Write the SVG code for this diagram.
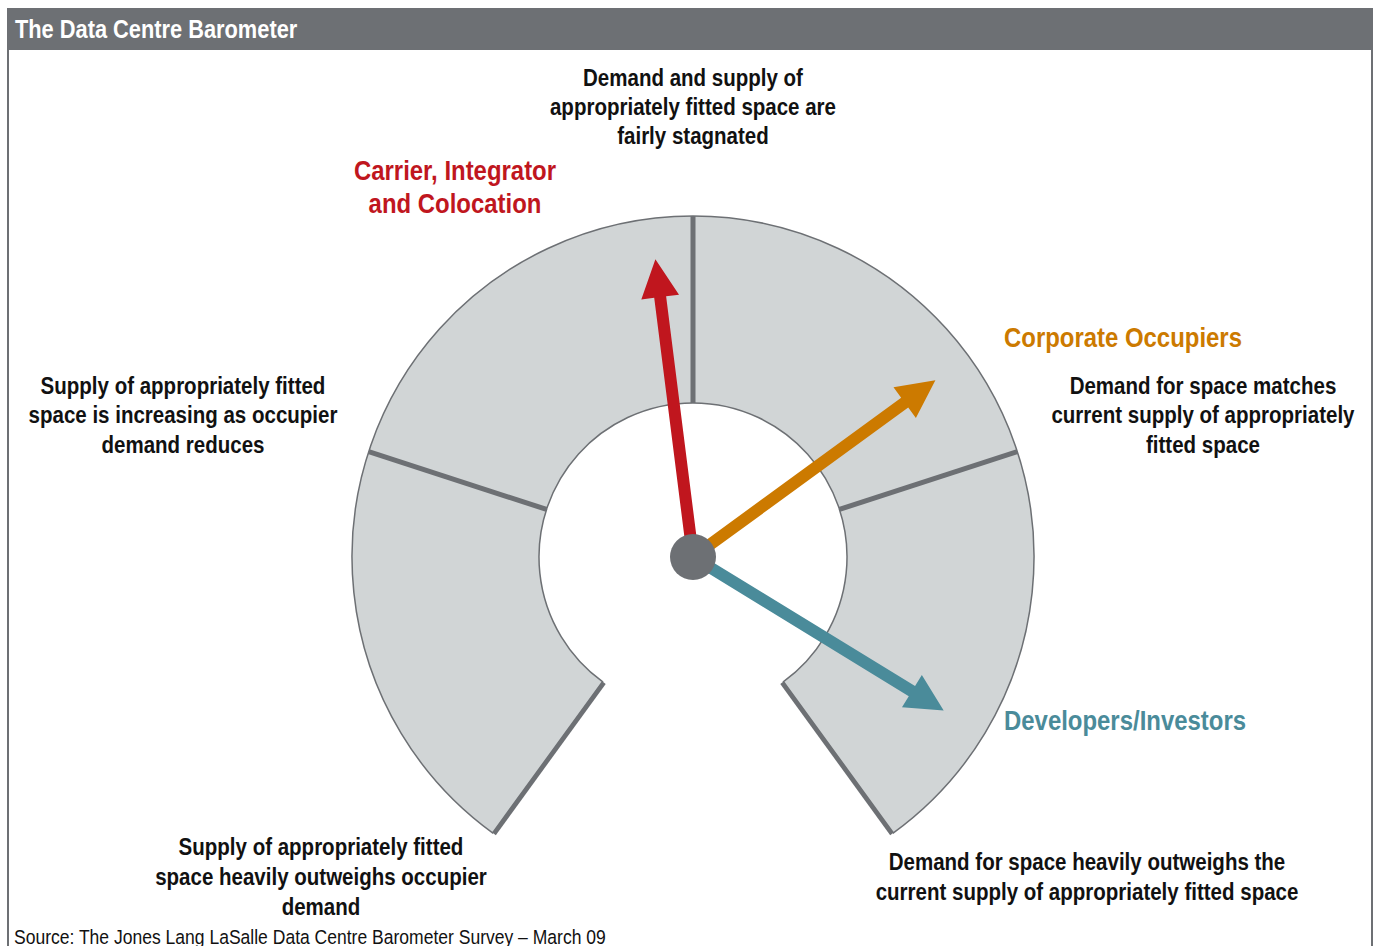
<svg xmlns="http://www.w3.org/2000/svg" width="1378" height="946" viewBox="0 0 1378 946">
  <style>
    /* narrow face emulated by squeezing Liberation Sans horizontally */
    .t { font-family: "Liberation Sans", Arial, sans-serif; }
    .lbl { font-size: 24px; font-weight: bold; fill: #111; text-anchor: middle; }
    .grp { font-size: 28px; font-weight: bold; text-anchor: middle; }
    .div { stroke: #6d7074; stroke-width: 5; }
    .edge { stroke: #6d7074; stroke-width: 4; }
  </style>
  <defs>
    <!-- needle pointing straight up from the hub, rotated into place -->
    <polygon id="needle" points="-6,0 -6,-262 -19,-262 0,-300 19,-262 6,-262 6,0"/>
  </defs>

  <rect width="1378" height="946" fill="#fff"/>

  <!-- frame -->
  <g id="frame">
    <rect x="7" y="8" width="1366" height="42" fill="#6d7074"/>
    <line x1="8" y1="50" x2="8" y2="946" stroke="#6d7074" stroke-width="2"/>
    <line x1="1372" y1="50" x2="1372" y2="946" stroke="#6d7074" stroke-width="2"/>
    <text class="t" transform="scale(0.855 1)" x="17.54" y="38" font-size="25.5" font-weight="bold" fill="#fff">The Data Centre Barometer</text>
  </g>

  <!-- gauge dial -->
  <g id="gauge">
    <path d="M 492.56 832.87 A 341 341 0 1 1 893.44 832.87 L 783.52 681.59 A 154 154 0 1 0 602.48 681.59 Z" fill="#d1d5d6" stroke="#6d7074" stroke-width="1.5"/>
    <line class="div" x1="693" y1="216" x2="693" y2="403"/>
    <line class="div" x1="368.69" y1="451.62" x2="546.54" y2="509.41"/>
    <line class="div" x1="1017.31" y1="451.62" x2="839.46" y2="509.41"/>
    <line class="edge" x1="604.1" y1="682.8" x2="494.2" y2="834"/>
    <line class="edge" x1="781.9" y1="682.8" x2="891.8" y2="834"/>
  </g>

  <!-- needles -->
  <g id="needles">
    <use href="#needle" fill="#c0161e" transform="translate(693 557) rotate(-7.2)"/>
    <use href="#needle" fill="#cc7a00" transform="translate(693 557) rotate(53.9)"/>
    <use href="#needle" fill="#4a8b9a" transform="translate(693 557) rotate(121.5) scale(1 0.98)"/>
    <circle cx="693" cy="557" r="23" fill="#6d7074"/>
  </g>

  <!-- group labels -->
  <g id="label-carrier">
    <text class="t grp" transform="scale(0.855 1)" fill="#c0161e"><tspan x="532.16" y="180">Carrier, Integrator</tspan><tspan x="532.16" y="213">and Colocation</tspan></text>
  </g>
  <g id="label-corporate">
    <text class="t grp" transform="scale(0.855 1)" x="1313.45" y="347" fill="#cc7a00">Corporate Occupiers</text>
  </g>
  <g id="label-developers">
    <text class="t grp" transform="scale(0.855 1)" x="1315.79" y="730" fill="#4a8b9a">Developers/Investors</text>
  </g>

  <!-- zone descriptions -->
  <g id="zone-top">
    <text class="t lbl" transform="scale(0.855 1)"><tspan x="810.53" y="86">Demand and supply of</tspan><tspan x="810.53" y="115">appropriately fitted space are</tspan><tspan x="810.53" y="144.5">fairly stagnated</tspan></text>
  </g>
  <g id="zone-upper-left">
    <text class="t lbl" transform="scale(0.855 1)"><tspan x="214.04" y="394">Supply of appropriately fitted</tspan><tspan x="214.04" y="423.5">space is increasing as occupier</tspan><tspan x="214.04" y="453">demand reduces</tspan></text>
  </g>
  <g id="zone-upper-right">
    <text class="t lbl" transform="scale(0.855 1)"><tspan x="1407.02" y="394">Demand for space matches</tspan><tspan x="1407.02" y="423.5">current supply of appropriately</tspan><tspan x="1407.02" y="453">fitted space</tspan></text>
  </g>
  <g id="zone-lower-left">
    <text class="t lbl" transform="scale(0.855 1)"><tspan x="375.44" y="855">Supply of appropriately fitted</tspan><tspan x="375.44" y="885">space heavily outweighs occupier</tspan><tspan x="375.44" y="915">demand</tspan></text>
  </g>
  <g id="zone-lower-right">
    <text class="t lbl" transform="scale(0.855 1)"><tspan x="1271.35" y="870">Demand for space heavily outweighs the</tspan><tspan x="1271.35" y="900">current supply of appropriately fitted space</tspan></text>
  </g>

  <text class="t" transform="scale(0.855 1)" x="16.37" y="944" font-size="20.5" fill="#111">Source: The Jones Lang LaSalle Data Centre Barometer Survey – March 09</text>
</svg>
